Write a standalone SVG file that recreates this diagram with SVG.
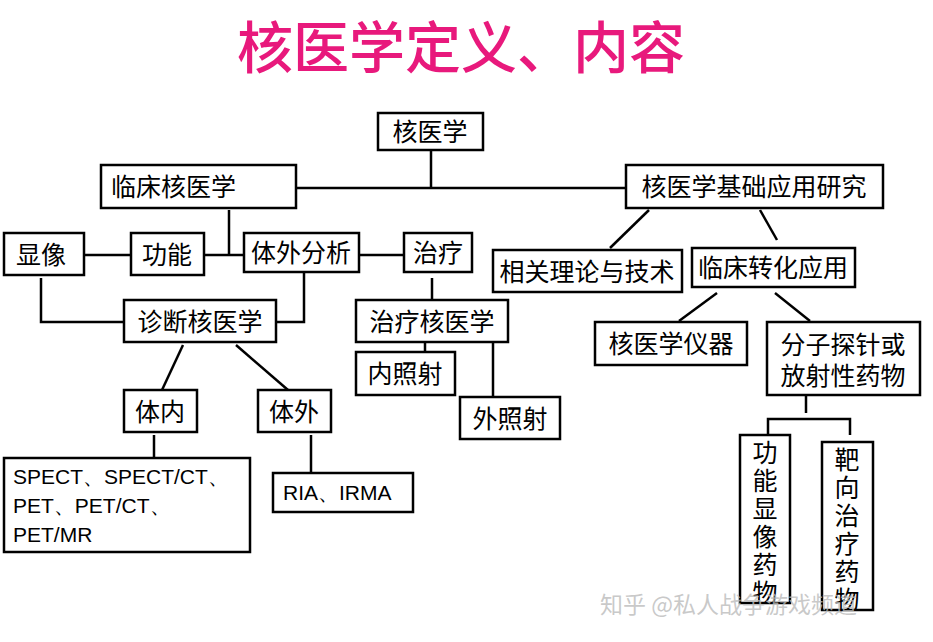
<svg xmlns="http://www.w3.org/2000/svg" width="933" height="642" viewBox="0 0 933 642">
<style>
rect{fill:#fff;stroke:#000;stroke-width:2.5}
text{font-family:"Noto Sans CJK SC","Liberation Sans",sans-serif;font-size:25px;fill:#000}
.c line,.c path{stroke:#000;stroke-width:2.5;fill:none}
.en{font-family:"Liberation Sans",sans-serif;font-size:21px}
.v{writing-mode:vertical-rl;letter-spacing:3px}
</style>
<rect x="0" y="0" width="933" height="642" style="stroke:none"/>
<text x="461" y="68" text-anchor="middle" style="font-size:56px;fill:#e8197c;font-weight:500">核医学定义、内容</text>
<g class="c">
<line x1="431" y1="150" x2="431" y2="188"/>
<line x1="296" y1="188" x2="626" y2="188"/>
<line x1="84" y1="255" x2="131" y2="255"/>
<line x1="204" y1="255" x2="244" y2="255"/>
<line x1="229" y1="210" x2="229" y2="255"/>
<line x1="359" y1="255" x2="404" y2="255"/>
<path d="M41 278V322H124"/>
<path d="M304 271V322H276"/>
<line x1="432" y1="278" x2="432" y2="300"/>
<line x1="425" y1="342" x2="425" y2="352"/>
<line x1="493" y1="342" x2="493" y2="397"/>
<line x1="183" y1="345" x2="162" y2="390"/>
<line x1="236" y1="345" x2="288" y2="390"/>
<line x1="154" y1="435" x2="154" y2="458"/>
<line x1="311" y1="435" x2="311" y2="473"/>
<line x1="649" y1="210" x2="610" y2="248"/>
<line x1="760" y1="210" x2="777" y2="240"/>
<line x1="717" y1="293" x2="679" y2="321"/>
<line x1="775" y1="293" x2="810" y2="321"/>
<line x1="806" y1="395" x2="806" y2="413"/>
<path d="M768 435V419H850V435"/>
</g>
<g id="root"><rect x="378" y="113" width="105" height="37"/><text x="430" y="141" text-anchor="middle">核医学</text></g>
<g id="clinical"><rect x="101" y="165" width="195" height="43"/><text x="111" y="196">临床核医学</text></g>
<g id="basic"><rect x="626" y="165" width="257" height="43"/><text x="754" y="196" text-anchor="middle">核医学基础应用研究</text></g>
<g id="imaging"><rect x="4" y="233" width="80" height="42"/><text x="41" y="264" text-anchor="middle">显像</text></g>
<g id="function"><rect x="131" y="233" width="73" height="42"/><text x="167" y="264" text-anchor="middle">功能</text></g>
<g id="invitro"><rect x="244" y="233" width="115" height="39"/><text x="301" y="262" text-anchor="middle">体外分析</text></g>
<g id="therapy"><rect x="404" y="233" width="68" height="39"/><text x="438" y="262" text-anchor="middle">治疗</text></g>
<g id="diag"><rect x="124" y="300" width="152" height="42"/><text x="200" y="331" text-anchor="middle">诊断核医学</text></g>
<g id="thernm"><rect x="356" y="300" width="152" height="42"/><text x="432" y="331" text-anchor="middle">治疗核医学</text></g>
<g id="internal"><rect x="356" y="352" width="99" height="43"/><text x="405" y="383" text-anchor="middle">内照射</text></g>
<g id="external"><rect x="460" y="397" width="100" height="42"/><text x="510" y="428" text-anchor="middle">外照射</text></g>
<g id="invivo"><rect x="124" y="390" width="73" height="42"/><text x="160" y="421" text-anchor="middle">体内</text></g>
<g id="vitro"><rect x="258" y="390" width="73" height="42"/><text x="294" y="421" text-anchor="middle">体外</text></g>
<g id="spect"><rect x="4" y="458" width="246" height="94"/>
<text class="en" x="13" y="484">SPECT、SPECT/CT、<tspan x="13" dy="29">PET、PET/CT、</tspan><tspan x="13" dy="29">PET/MR</tspan></text></g>
<g id="ria"><rect x="273" y="473" width="140" height="39"/><text class="en" x="283" y="500">RIA、IRMA</text></g>
<g id="theory"><rect x="493" y="250" width="189" height="42"/><text x="587" y="281" text-anchor="middle">相关理论与技术</text></g>
<g id="trans"><rect x="692" y="248" width="163" height="39"/><text x="773" y="277" text-anchor="middle">临床转化应用</text></g>
<g id="instr"><rect x="595" y="322" width="152" height="43"/><text x="671" y="353" text-anchor="middle">核医学仪器</text></g>
<g id="probe"><rect x="767" y="322" width="153" height="73"/><text x="843" y="354" text-anchor="middle">分子探针或<tspan x="843" dy="31">放射性药物</tspan></text></g>
<g id="img-drug"><rect x="740" y="435" width="50" height="168"/><text class="v" x="765" y="440">功能显像药物</text></g>
<g id="tgt-drug"><rect x="822" y="442" width="51" height="168"/><text class="v" x="847" y="447">靶向治疗药物</text></g>
<text x="600" y="613" style="fill:#bbb;fill-opacity:0.8;font-size:23px">知乎 @私人战争游戏频道</text>
</svg>
